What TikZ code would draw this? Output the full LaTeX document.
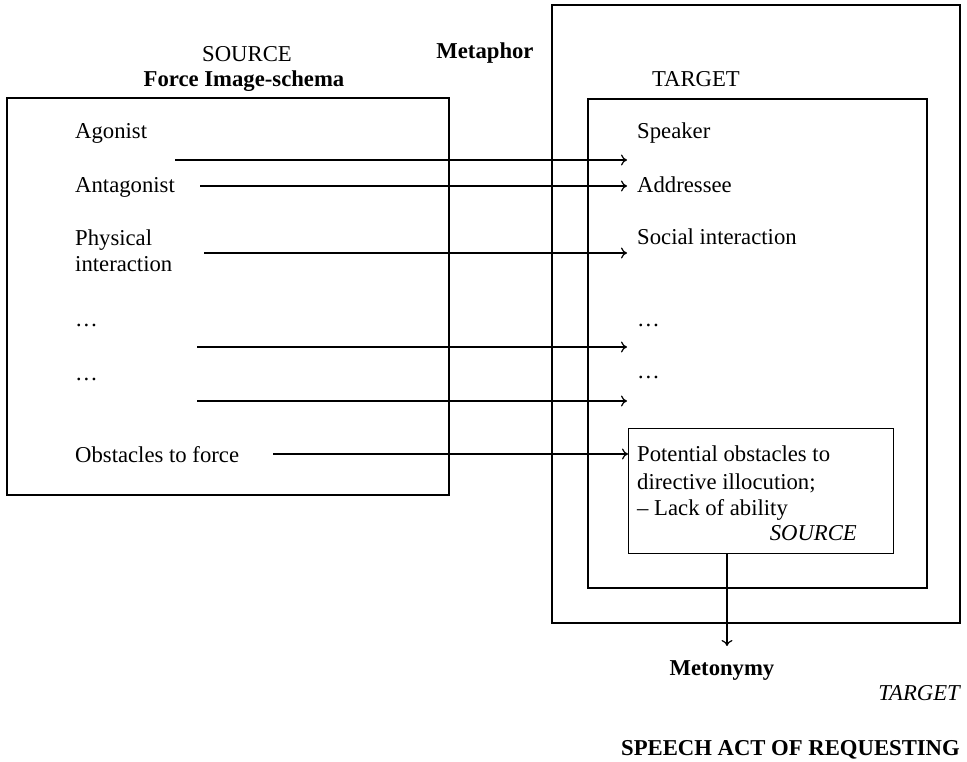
\documentclass[tikz,border=0pt]{standalone}
\usepackage{fontspec}
\setmainfont{Liberation Serif}
\usetikzlibrary{arrows.meta}
\begin{document}
\begin{tikzpicture}[x=1pt,y=-1pt,
  txt/.style={inner sep=0pt,font=\fontsize{22.7}{26.5}\selectfont},
  lbl/.style={txt,anchor=base west},
  frame/.style={draw,line width=1.1pt},
  conn/.style={line width=1.2pt,-{To[length=6pt,width=11pt]}}]
\useasboundingbox (0,0) rectangle (967,762);
% boxes
\draw[frame] (7,98) rectangle (449,495);
\draw[frame] (552,5) rectangle (960,623);
\draw[frame] (588,99) rectangle (927,588);
\node[frame,inner sep=0pt,minimum width=265pt,minimum height=125pt,anchor=north west] (obs) at (628,428) {};
% headings
\node[txt,anchor=base] (src) at (247,62) {SOURCE};
\node[txt,anchor=base,font=\fontsize{22.7}{26.5}\selectfont\bfseries] (fis) at (244,87) {Force Image-schema};
\node[txt,anchor=base,font=\fontsize{22.7}{26.5}\selectfont\bfseries] (met) at (485,59) {Metaphor};
\node[txt,anchor=base] (tgt) at (696,87) {TARGET};
% source items
\node[lbl] (ago) at (75,139) {Agonist};
\node[lbl] (ant) at (75,193) {Antagonist};
\node[lbl] (phy) at (75,246) {Physical};
\node[lbl] (int) at (75,272) {interaction};
\node[lbl] (d1) at (75,326) {\dots};
\node[lbl] (d2) at (75,380) {\dots};
\node[lbl] (otf) at (75,462) {Obstacles to force};
% target items
\node[lbl] (spk) at (637,139) {Speaker};
\node[lbl] (add) at (637,193) {Addressee};
\node[lbl] (soc) at (637,245) {Social interaction};
\node[lbl] (e1) at (637,326) {\dots};
\node[lbl] (e2) at (637,378) {\dots};
\node[lbl] (po1) at (637,461) {Potential obstacles to};
\node[lbl] (po2) at (637,489) {directive illocution;};
\node[lbl] (po3) at (637,515) {-- Lack of ability};
\node[txt,anchor=base east,font=\fontsize{22.7}{26.5}\selectfont\itshape] (po4) at (857,540) {SOURCE};
% bottom labels
\node[txt,anchor=base,font=\fontsize{22.7}{26.5}\selectfont\bfseries] (mety) at (722,675) {Metonymy};
\node[txt,anchor=base east,font=\fontsize{22.7}{26.5}\selectfont\itshape] (tgt2) at (960,700) {TARGET};
\node[txt,anchor=base east,font=\fontsize{22.7}{26.5}\selectfont\bfseries] (sar) at (960,755) {SPEECH ACT OF REQUESTING};
% connector ends
\coordinate (a1) at (175,160); \coordinate (b1) at (627,160);
\coordinate (a2) at (200,186); \coordinate (b2) at (627,186);
\coordinate (a3) at (204,253); \coordinate (b3) at (627,253);
\coordinate (a4) at (197,347); \coordinate (b4) at (627,347);
\coordinate (a5) at (197,401); \coordinate (b5) at (627,401);
\coordinate (a6) at (273,454); \coordinate (b6) at (628,454);
\coordinate (v1) at (727,553); \coordinate (v2) at (727,646);
\draw[conn] (a1) -- (b1);
\draw[conn] (a2) -- (b2);
\draw[conn] (a3) -- (b3);
\draw[conn] (a4) -- (b4);
\draw[conn] (a5) -- (b5);
\draw[conn] (a6) -- (b6);
\draw[conn] (v1) -- (v2);
\end{tikzpicture}
\end{document}
